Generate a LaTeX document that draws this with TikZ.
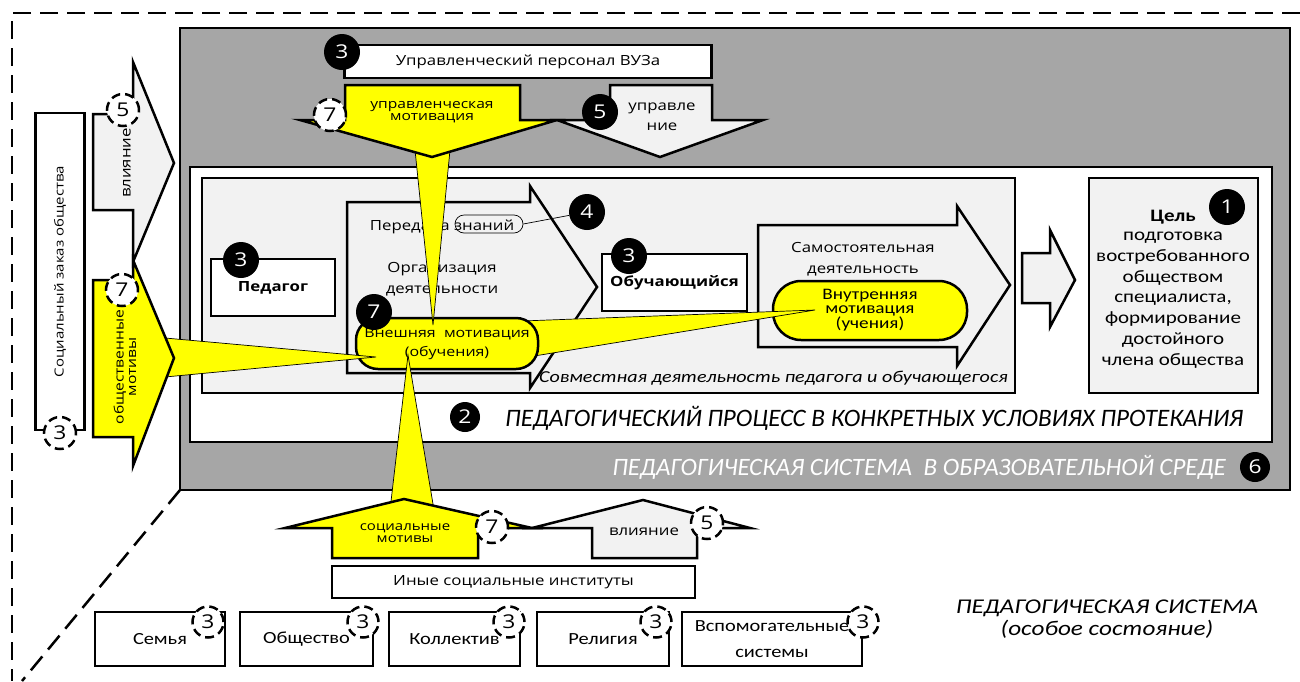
\documentclass[tikz,border=0pt]{standalone}
\usepackage{fontspec}
\setmainfont{Open Sans}[FakeStretch=1.2]
\newfontfamily\carl{Carlito}[FakeStretch=1.2]
\newfontfamily\carln{Carlito}
\usetikzlibrary{positioning}
\usetikzlibrary{arrows.meta}

\definecolor{gris}{HTML}{A6A6A6}
\definecolor{claro}{HTML}{F2F2F2}
\definecolor{amarillo}{HTML}{FFFF00}

\tikzset{
  caja/.style={draw, line width=2.5pt, fill=white, inner sep=0pt},
  negro/.style={circle, fill=black, text=white, minimum size=36pt, inner sep=0pt, font=\fontsize{19}{19}\selectfont},
  rayas/.style={circle, draw, fill=white, line width=2.5pt, dash pattern=on 9pt off 5pt, minimum size=32pt, inner sep=0pt, font=\fontsize{19}{19}\selectfont},
  motivo/.style={draw, line width=2.5pt, fill=amarillo, inner sep=0pt, align=center},
  cuna/.style={fill=amarillo, draw=black, line width=0.7pt},
  flecha/.style={draw, line width=2.5pt},
  borde/.style={line width=2.5pt, dash pattern=on 18pt off 9pt},
  txt/.style={font=\fontsize{14}{21}\selectfont, align=center, inner sep=0pt},
  inst/.style={caja, minimum height=54pt, font=\carl\fontsize{17}{26}\selectfont, align=center}
}

\begin{document}
\begin{tikzpicture}[x=1pt, y=-1pt]
\useasboundingbox (0,0) rectangle (1300,681);

\draw[borde] (1300,13) -- (12,13) -- (12,681);   % marco exterior
\draw[borde] (180,490) -- (22,681);

% sistema pedagogica
\draw[line width=2.5pt, fill=gris] (180,28) rectangle (1290,490);
\node[caja, minimum width=367pt, minimum height=33pt, txt] (vuz) at (528,61.5) {Управленческий персонал ВУЗа};

% proceso pedagogico
\draw[line width=2.5pt, fill=white] (190,167) rectangle (1272,442);
\draw[line width=2.5pt, fill=claro] (202,178) rectangle (1015,393);

\node[caja, minimum width=124pt, minimum height=57pt, font=\bfseries\fontsize{14}{14}\selectfont] (pedagog) at (273,287.5) {Педагог};

\draw[flecha, fill=claro] (347,202) -- (530,202) -- (530,186) -- (597,287) -- (530,388) -- (530,373) -- (347,373) -- cycle;
\node[txt] (peredacha) at (442,227) {Передача знаний};
\node[draw, line width=0.7pt, rounded corners=9pt, minimum width=68pt, minimum height=18pt] (oval) at (489,224) {};
\node[txt] (organiz) at (442,279) {Организация\\деятельности};

\node[caja, minimum width=145pt, minimum height=57pt, font=\bfseries\fontsize{14}{14}\selectfont] (obuch) at (674.5,282.5) {Обучающийся};

\draw[flecha, fill=claro] (758,225) -- (957,225) -- (957,206) -- (1010,285) -- (957,366) -- (957,347) -- (758,347) -- cycle;
\node[txt] (samost) at (863,259.5) {Самостоятельная\\деятельность};
\node[motivo, minimum width=194pt, minimum height=59pt, rounded corners=28pt, font=\carl\fontsize{16}{13.5}\selectfont] (vnutr) at (870,310.5) {Внутренняя\\мотивация\\(учения)};

\draw[flecha, fill=claro] (1022,253) -- (1050,253) -- (1050,230) -- (1075,280) -- (1050,327) -- (1050,303) -- (1022,303) -- cycle;

\node[draw, line width=2.5pt, fill=claro, minimum width=169pt, minimum height=215pt] (tsel) at (1173.5,285.5) {};
\node[font=\carl\bfseries\fontsize{17.5}{17.5}\selectfont] (tselt) at (1173,217) {Цель};
\node[txt, font=\carl\fontsize{17.5}{20.8}\selectfont] (tselx) at (1173,300) {подготовка\\востребованного\\обществом\\специалиста,\\формирование\\достойного\\члена общества};

\node[font=\carl\itshape\fontsize{16.7}{16.7}\selectfont, anchor=east, inner sep=0pt] (sovm) at (1008,378) {Совместная деятельность педагога и обучающегося};
\node[negro, minimum size=30pt] (n2) at (465,417) {2};
\node[font=\carln\itshape\fontsize{25.1}{25.1}\selectfont, anchor=west, inner sep=0pt] (process) at (505,418) {ПЕДАГОГИЧЕСКИЙ ПРОЦЕСС В КОНКРЕТНЫХ УСЛОВИЯХ ПРОТЕКАНИЯ};
\node[font=\carln\itshape\fontsize{25}{25}\selectfont, text=white, anchor=east, inner sep=0pt] (sreda) at (1226,467) {ПЕДАГОГИЧЕСКАЯ СИСТЕМА\ \ В ОБРАЗОВАТЕЛЬНОЙ СРЕДЕ};
\node[negro, minimum size=30pt] (n6) at (1255,467) {6};

% motivaciones
\draw[cuna] (522,321) -- (815,310) -- (522,358) -- cycle;
\node[motivo, minimum width=182pt, minimum height=51pt, rounded corners=22pt, font=\fontsize{13.3}{19}\selectfont] (vnesh) at (447,343.5) {Внешняя\ \ мотивация\\(обучения)};
\draw[cuna] (415,150) -- (450,150) -- (433,325) -- cycle;
\draw[cuna] (165,338) -- (376,357) -- (165,377) -- cycle;
\draw[cuna] (408,355) -- (434,510) -- (390,510) -- cycle;

% flechas de arriba
\draw[flecha, fill=amarillo] (345,85) -- (520,85) -- (520,120) -- (557,120) -- (432,157) -- (300,120) -- (345,120) -- cycle;
\node[txt, font=\fontsize{13}{11.5}\selectfont] (upravmot) at (432,112) {управленческая\\мотивация};
\draw[flecha, fill=claro] (610,85) -- (712,85) -- (712,120) -- (763,120) -- (660,157) -- (557,120) -- (610,120) -- cycle;
\node[txt, font=\fontsize{14}{20}\selectfont] (uprav) at (662,117) {управле\\ние};

% izquierda
\node[caja, rotate=90, minimum width=317pt, minimum height=49pt, txt, font=\fontsize{12.5}{12.5}\selectfont] (zakaz) at (60,271.5) {Социальный заказ общества};
\draw[flecha, fill=claro] (93,114) -- (133,114) -- (133,62) -- (174,163) -- (133,262) -- (133,210) -- (93,210) -- cycle;
\node[txt, rotate=90] (vliyanie1) at (127,163) {влияние};
\draw[flecha, fill=amarillo] (93,280) -- (133,280) -- (133,260) -- (174,358) -- (133,466) -- (133,437) -- (93,437) -- cycle;
\node[txt, rotate=90, font=\fontsize{13}{12.5}\selectfont] (obshmot) at (125,367) {общественные\\мотивы};

% abajo
\draw[flecha, fill=amarillo] (332,558) -- (332,528) -- (285,528) -- (404,499) -- (532,528) -- (478,528) -- (478,558) -- cycle;
\node[txt, font=\fontsize{12.5}{12}\selectfont] (socmot) at (405,533) {социальные\\мотивы};
\draw[flecha, fill=claro] (592,558) -- (592,528) -- (532,528) -- (643,500) -- (750,528) -- (697,528) -- (697,558) -- cycle;
\node[txt] (vliyanie2) at (644,532) {влияние};
\node[caja, minimum width=363pt, minimum height=32pt, txt] (inye) at (513.5,582) {Иные социальные институты};

\node[inst, minimum width=130pt] (semya) at (160,639) {Семья};
\node[inst, minimum width=133pt] (obshestvo) at (306.5,639) {Общество};
\node[inst, minimum width=131pt] (kollektiv) at (454.5,639) {Коллектив};
\node[inst, minimum width=132pt] (religiya) at (603,639) {Религия};
\node[inst, minimum width=180pt] (vspom) at (772,639) {Вспомогательные\\системы};

\node[font=\carl\itshape\fontsize{21}{22}\selectfont, align=center] (osoboe) at (1107,619) {ПЕДАГОГИЧЕСКАЯ СИСТЕМА\\(особое состояние)};

% numeros
\node[negro] (n3a) at (342,52) {3};
\node[rayas] (n7a) at (330,115) {7};
\node[negro] (n5a) at (600,112) {5};
\node[rayas] (n5b) at (123,110) {5};
\node[rayas] (n7b) at (122,290) {7};
\node[rayas] (n3b) at (60,433) {3};
\node[negro] (n3c) at (241,260) {3};
\node[negro] (n4) at (587,212) {4};
\node[negro] (n7c) at (374,312) {7};
\node[negro] (n3d) at (629,256) {3};
\node[negro] (n1) at (1227,207) {1};
\node[rayas] (n7d) at (492,527) {7};
\node[rayas] (n5c) at (707,523) {5};
\foreach \x/\n in {208/s1, 363/s2, 509/s3, 656/s4, 863/s5}
  \node[rayas, minimum size=31pt] (\n) at (\x,622) {3};
\draw[line width=0.7pt] (oval.east) -- (n4);
\end{tikzpicture}
\end{document}
